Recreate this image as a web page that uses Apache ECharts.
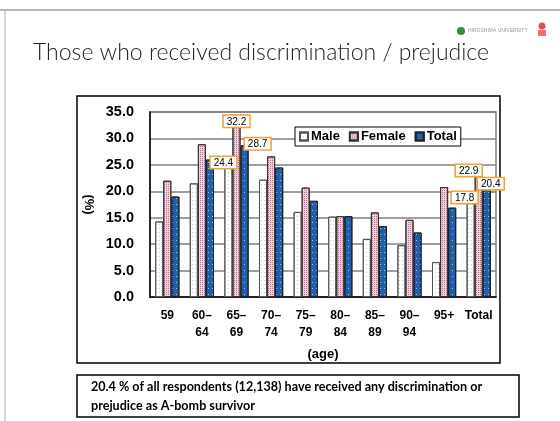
<!DOCTYPE html>
<html>
<head>
<meta charset="utf-8">
<title>Those who received discrimination / prejudice</title>
<script src="https://cdn.jsdelivr.net/npm/echarts@6/dist/echarts.min.js"></script>
<style>
  html, body { margin: 0; padding: 0; background: #fff; }
  #main { width: 560px; height: 421px; }
</style>
</head>
<body>
<div id="main"></div>
<script>
// 年齢階級（被爆者調査）
var categories = ['59', '60\u2013\n64', '65\u2013\n69', '70\u2013\n74', '75\u2013\n79', '80\u2013\n84', '85\u2013\n89', '90\u2013\n94', '95+', 'Total'];
var maleValues   = [14.3, 21.5, 24.4, 22.2, 16.1, 15.2, 11.0, 9.8, 6.6, 17.8];
var femaleValues = [22.0, 28.9, 32.2, 26.6, 20.7, 15.3, 16.0, 14.6, 20.8, 22.9];
var totalValues  = [19.0, 26.0, 28.7, 24.5, 18.2, 15.3, 13.4, 12.2, 16.9, 20.4];
var yTicks = [0, 5, 10, 15, 20, 25, 30, 35];

var sans = "'Liberation Sans', Arial, sans-serif";

// 値ラベル（オレンジ枠）: index -> offset
function boxed(values, marks) {
    return values.map(function (v, i) {
        if (marks[i] === undefined) return v;
        return {
            value: v,
            label: {
                show: true, position: 'top', distance: 0,
                offset: marks[i],
                formatter: function (p) { return p.value.toFixed(1); },
                fontFamily: sans, fontSize: 10, color: '#000',
                backgroundColor: '#fff',
                borderColor: '#f5a030', borderWidth: 1.5,
                padding: [1, 3, 0, 3]
            }
        };
    });
}

var myChart = echarts.init(document.getElementById('main'));
var option = {
    animation: false,
    backgroundColor: '#fff',
    grid: { left: 150, right: 64, top: 112, bottom: 124, show: true, borderColor: '#808080', borderWidth: 1.5 },
    legend: {
        left: 295, top: 127,
        icon: 'rect',
        itemWidth: 8, itemHeight: 8, itemGap: 9,
        padding: [3, 4, 3, 4],
        backgroundColor: '#fff', borderColor: '#000', borderWidth: 1,
        textStyle: { fontFamily: sans, fontWeight: 'bold', fontSize: 13, color: '#000', padding: [0, 0, 0, -2] },
        data: ['Male', 'Female', 'Total']
    },
    xAxis: {
        type: 'category',
        data: categories,
        name: '(age)', nameLocation: 'middle', nameGap: 51,
        nameTextStyle: { fontFamily: sans, fontWeight: 'bold', fontSize: 13, color: '#000' },
        axisLine: { lineStyle: { color: '#000', width: 1.5 } },
        axisTick: { inside: true, length: 4, lineStyle: { color: '#000' } },
        axisLabel: { fontFamily: sans, fontWeight: 'bold', fontSize: 12, color: '#000', margin: 10, lineHeight: 17, interval: 0 }
    },
    yAxis: {
        type: 'value',
        min: yTicks[0], max: yTicks[yTicks.length - 1], interval: 5,
        name: '(%)', nameLocation: 'middle', nameGap: 52, nameRotate: -90,
        nameTextStyle: { fontFamily: sans, fontWeight: 'bold', fontSize: 13, color: '#000' },
        axisLine: { show: true, lineStyle: { color: '#000', width: 1.5 } },
        axisTick: { show: false },
        axisLabel: { fontFamily: sans, fontWeight: 'bold', fontSize: 14.5, color: '#000', margin: 16,
            formatter: function (v) { return v.toFixed(1); } },
        splitLine: { lineStyle: { color: '#808080', width: 1.5 } }
    },
    series: [
        {
            name: 'Male', type: 'bar', barGap: '0%', barCategoryGap: '30%',
            data: boxed(maleValues, { 2: [-5, 0], 9: [-6, 0] }),
            itemStyle: {
                color: '#fff', borderColor: '#555', borderWidth: 1,
                decal: { symbol: 'rect', symbolSize: 1, color: '#c4c4e0', dashArrayX: [1, 2], dashArrayY: [1, 3], rotation: 0 }
            }
        },
        {
            name: 'Female', type: 'bar',
            data: boxed(femaleValues, { 2: [0, 0], 9: [-10, 0] }),
            itemStyle: {
                color: '#f2cfdd', borderColor: '#333', borderWidth: 1,
                decal: { symbol: 'rect', symbolSize: 1, color: '#bd6f90', dashArrayX: [1, 1], dashArrayY: [1, 1], rotation: 0 }
            }
        },
        {
            name: 'Total', type: 'bar',
            data: boxed(totalValues, { 2: [13, 4], 9: [4, 0] }),
            itemStyle: {
                color: '#1e5fae', borderColor: '#222', borderWidth: 1,
                decal: { symbol: 'rect', symbolSize: 1, color: 'rgba(255,255,255,0.6)', dashArrayX: [1, 3], dashArrayY: [1, 5], rotation: 0 }
            }
        }
    ],
    graphic: [
        // スライド枠線
        { type: 'line', shape: { x1: 0, y1: 10, x2: 560, y2: 10 }, style: { stroke: '#a0a0a0', lineWidth: 1.5 }, silent: true },
        { type: 'line', shape: { x1: 5, y1: 10, x2: 5, y2: 421 }, style: { stroke: '#b0b0b0', lineWidth: 1 }, silent: true },
        // ロゴ
        { type: 'circle', shape: { cx: 461, cy: 31, r: 4 }, style: { fill: '#3f8a3a' }, silent: true },
        { type: 'text', left: 468, top: 28, style: { text: 'HIROSHIMA UNIVERSITY', fontSize: 5, fill: '#999', fontFamily: sans }, silent: true },
        { type: 'circle', shape: { cx: 542, cy: 26, r: 3.5 }, style: { fill: '#e05050' }, silent: true },
        { type: 'rect', shape: { x: 538, y: 30, width: 8, height: 6 }, style: { fill: '#ee7070' }, silent: true },
        // タイトル
        { type: 'text', left: 33, top: 41, style: { text: 'Those who received discrimination / prejudice', fontFamily: 'Lato', fontWeight: 300, fontSize: 23, fill: '#222' }, silent: true },
        // グラフ外枠
        { type: 'rect', shape: { x: 77, y: 96, width: 423, height: 267 }, style: { fill: 'none', stroke: '#000', lineWidth: 1.5 }, silent: true, z: -1 },
        // 下のテキストボックス
        { type: 'rect', shape: { x: 77, y: 375, width: 442, height: 42 }, style: { fill: '#fff', stroke: '#000', lineWidth: 1.5 }, silent: true },
        { type: 'text', left: 91, top: 377, style: { text: '20.4 % of all respondents (12,138) have received any discrimination or\nprejudice as A-bomb survivor', fontFamily: 'Lato', fontWeight: 'bold', fontSize: 12.6, lineHeight: 19, fill: '#000' }, silent: true }
    ]
};
myChart.setOption(option);
</script>
</body>
</html>
